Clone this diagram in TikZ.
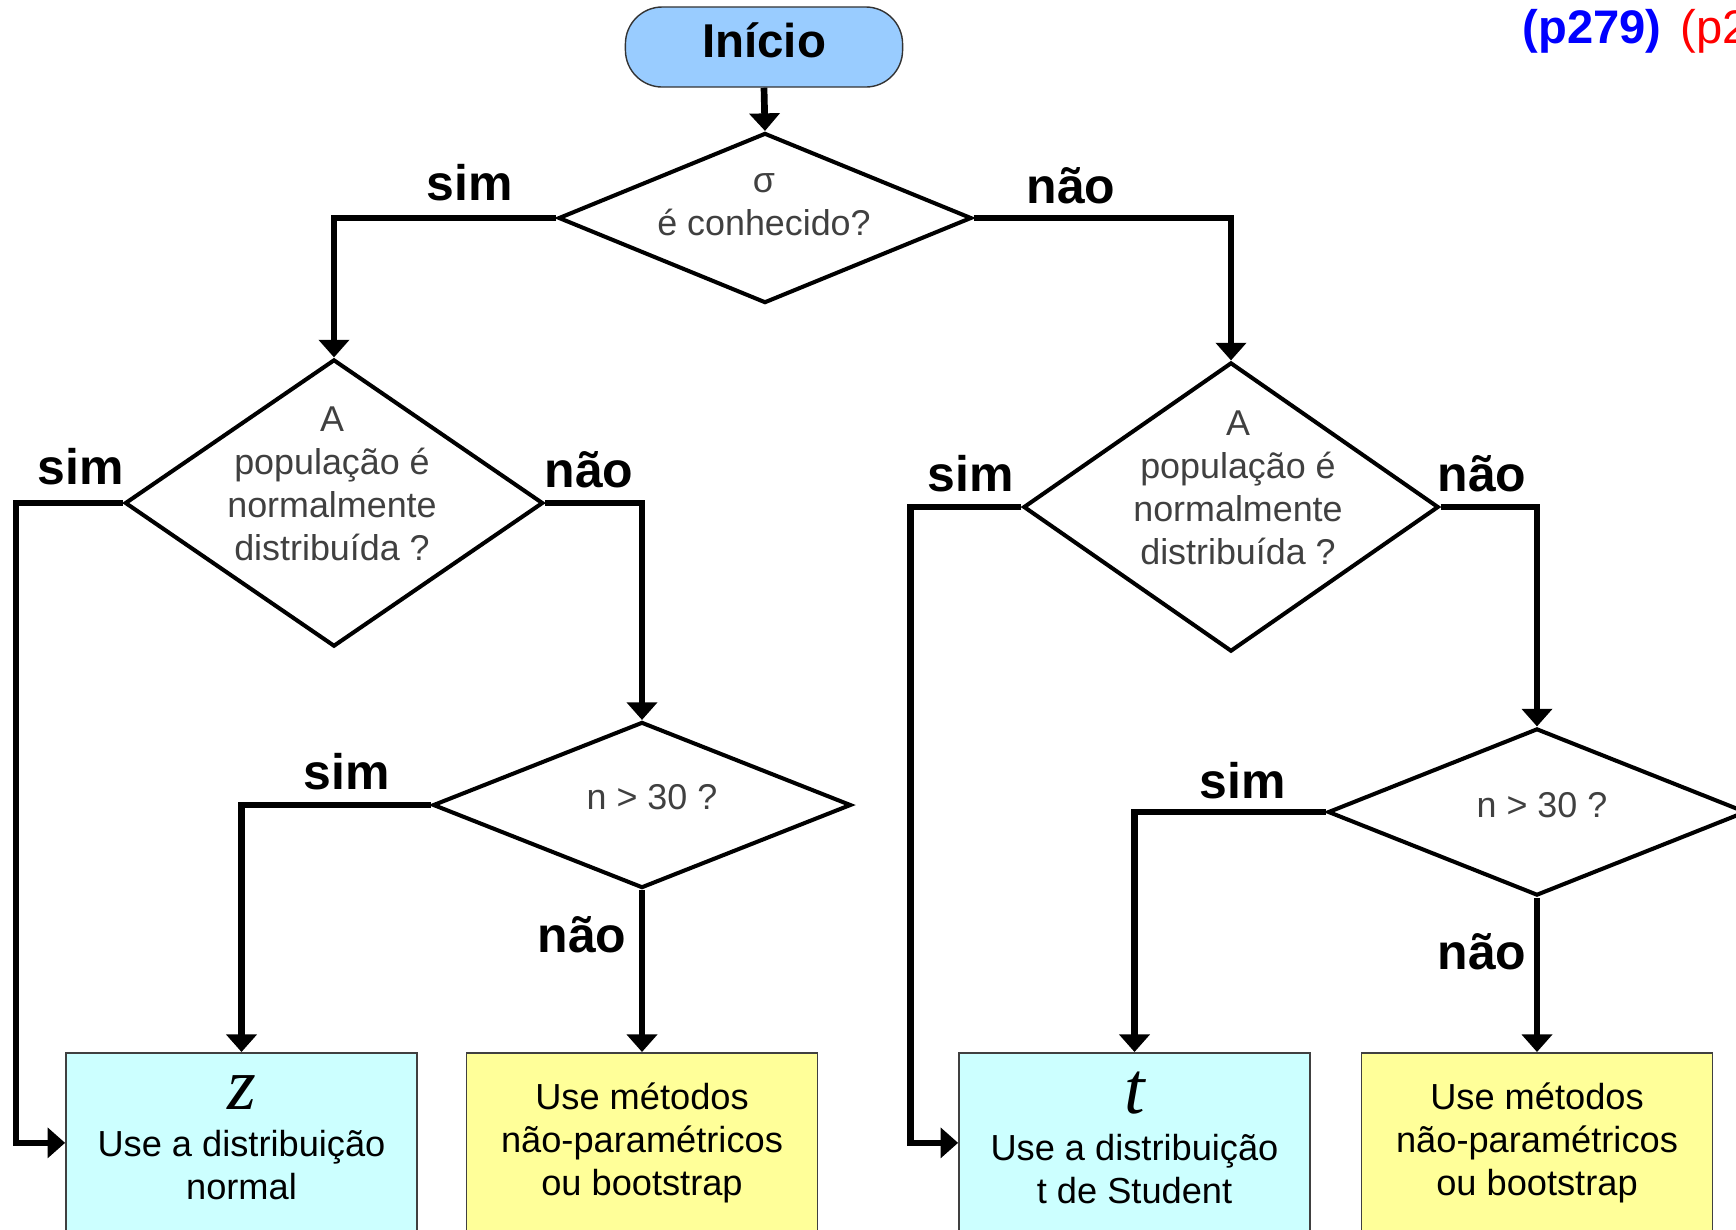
\documentclass[tikz,border=0pt]{standalone}
\usepackage{fontspec}
\setmainfont{Liberation Sans}
\newfontfamily\timesfont{Liberation Serif}
\usetikzlibrary{arrows.meta,shapes.geometric}

\definecolor{azulinicio}{HTML}{99CCFF}
\definecolor{ciano}{HTML}{CCFFFF}
\definecolor{amarelo}{HTML}{FFFF99}

\newcommand{\letra}[1]{{\fontsize{21pt}{21pt}\selectfont\timesfont\itshape #1}}

\tikzset{
	losango/.style 2 args={diamond, draw, line width=1.15pt, inner sep=0pt, minimum width=#1, minimum height=#2},
	caixa/.style={rectangle, draw=black!75, line width=0.45pt, inner sep=0pt, minimum width=3.51cm, minimum height=1.8cm, anchor=north, align=center, font=\fontsize{10.3pt}{12.3pt}\selectfont},
	seta/.style={line width=1.9pt, -{Triangle[length=5pt,width=8.5pt]}},
	resposta/.style={inner sep=0pt, font=\fontsize{14.2pt}{16pt}\selectfont\bfseries},
	pergunta/.style={inner sep=0pt, align=center, text=black!75, font=\fontsize{10.2pt}{12.2pt}\selectfont},
}

\begin{document}
\begin{tikzpicture}[x=0.01cm, y=-0.01cm]
	\useasboundingbox (0,0) rectangle (1736,1229);
	
	% Начало
	\node[draw=black!80, fill=azulinicio, rounded corners=10.5pt, minimum width=2.77cm, minimum height=0.8cm, inner sep=0pt, text depth=4pt, font=\fontsize{13.5pt}{16pt}\selectfont\bfseries] (inicio) at (764,47) {Início};
	
	% Ромбы
	\node[losango={4.13cm}{1.70cm}] (sigma) at (765,218) {};
	\node[losango={4.18cm}{2.87cm}] (normalz) at (334,503) {};
	\node[losango={4.18cm}{1.66cm}] (nz) at (642,805) {};
	\node[losango={4.15cm}{2.89cm}] (normalt) at (1231,507) {};
	\node[losango={4.18cm}{1.67cm}] (nt) at (1537,812) {};
	
	\node[pergunta] (sigmatxt) at (764,205) {σ\\é conhecido?};
	\node[pergunta] (normalztxt) at (332,484) {A\\população é\\normalmente\\distribuída ?};
	\node[pergunta] (nztxt) at (652,797) {n > 30 ?};
	\node[pergunta] (normalttxt) at (1238,488) {A\\população é\\normalmente\\distribuída ?};
	\node[pergunta] (nttxt) at (1542,805) {n > 30 ?};
	
	% Прямоугольники
	\node[caixa, fill=ciano, text depth=2.8pt] (usez) at (241.5,1052) {\letra{z}\\[1pt]Use a distribuição\\normal};
	\node[caixa, fill=amarelo] (bootz) at (642,1052) {Use métodos\\não-paramétricos\\ou bootstrap};
	\node[caixa, fill=ciano, text depth=2.8pt] (uset) at (1134.5,1052) {\letra{t}\\[1pt]Use a distribuição\\t de Student};
	\node[caixa, fill=amarelo] (boott) at (1537,1052) {Use métodos\\não-paramétricos\\ou bootstrap};
	
	% Стрелки
	\draw[seta] (inicio.south) -- (sigma.north);
	\draw[seta] (sigma.west) -| (normalz.north);
	\draw[seta] (sigma.east) -| (normalt.north);
	\draw[seta] (normalz.west) -- ++(-107,0) |- (usez.west);
	\draw[seta] (normalz.east) -| (nz.north);
	\draw[seta] (nz.west) -| (usez.north);
	\draw[seta] (nz.south) -- (bootz.north);
	\draw[seta] (normalt.west) -- ++(-111,0) |- (uset.west);
	\draw[seta] (normalt.east) -| (nt.north);
	\draw[seta] (nt.west) -| (uset.north);
	\draw[seta] (nt.south) -- (boott.north);
	
	% sim / não
	\node[resposta] (sim1) at (470,183) {sim};
	\node[resposta] (nao1) at (1071,186) {não};
	\node[resposta] (sim2) at (81,467) {sim};
	\node[resposta] (nao2) at (589,470) {não};
	\node[resposta] (sim3) at (347,772) {sim};
	\node[resposta] (nao3) at (582,935) {não};
	\node[resposta] (sim4) at (971,474) {sim};
	\node[resposta] (nao4) at (1482,474) {não};
	\node[resposta] (sim5) at (1243,781) {sim};
	\node[resposta] (nao5) at (1482,952) {não};
	
	\node[inner sep=0pt, anchor=west, text=blue, font=\fontsize{13.4pt}{16pt}\selectfont\bfseries] (pag1) at (1522,31) {(p279)};
	\node[inner sep=0pt, anchor=west, text=red, font=\fontsize{13.4pt}{16pt}\selectfont] (pag2) at (1680,31) {(p2};
\end{tikzpicture}
\end{document}
